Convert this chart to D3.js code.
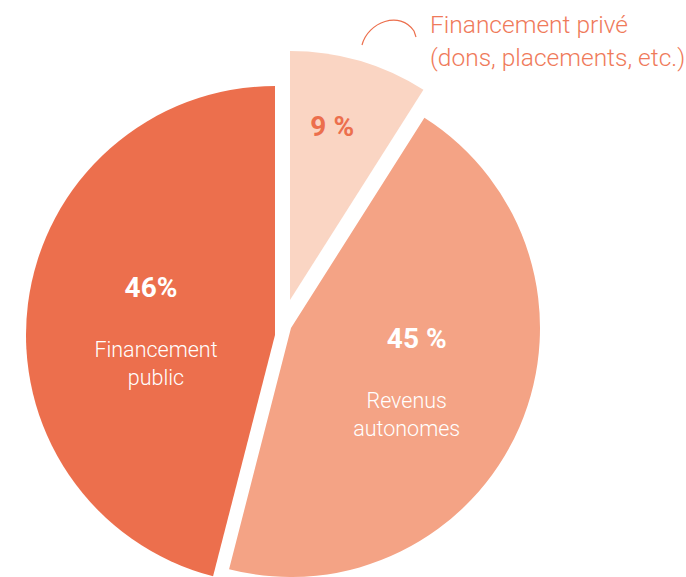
<!DOCTYPE html>
<html>
<head>
<meta charset="utf-8">
<script src="https://cdn.jsdelivr.net/npm/d3@7"></script>
<style>
  html, body { margin: 0; padding: 0; background: #fff; }
  svg { display: block; font-family: Roboto, 'Open Sans', sans-serif; }
</style>
</head>
<body>
<svg id="chart" width="686" height="577"></svg>
<script>
'use strict'

// sources de financement, dans le sens horaire depuis midi
const categories = ['privé', 'autonomes', 'public']
const shares = [9, 45, 46]
const pctLabels = ['9 %', '45 %', '46%']
const nameLines = [[], ['Revenus', 'autonomes'], ['Financement', 'public']]
const colors = ['#fad5c3', '#f4a385', '#ec6f4d']
const calloutLines = ['Financement privé', '(dons, placements, etc.)']

const width = 686
const height = 577
const radius = 249
const center = [283, 325]
// each slice is pulled out of the pie by hand
const sliceShift = [[7, -25], [8, 3], [-8, 10]]
const labelRadius = [180, 125, 125]
const pctOffset = [[-8, 9], [11, -30], [0, -22]]
const nameOffset = [[0, 0], [1, 30], [5, 38]]

const svg = d3.select('#chart')

const pie = d3.pie().sort(null).value((d) => d)
const arcs = pie(shares)
const arc = d3.arc().innerRadius(0).outerRadius(radius)

const slices = svg.append('g')
  .attr('class', 'slices')
  .selectAll('g.slice')
  .data(arcs)
  .enter().append('g')
  .attr('class', 'slice')
  .attr('transform', (d, i) => `translate(${center[0] + sliceShift[i][0]},${center[1] + sliceShift[i][1]})`)

slices.append('path')
  .attr('d', arc)
  .attr('fill', (d, i) => colors[i])

const labelPos = (d, i) => {
  const mid = (d.startAngle + d.endAngle) / 2
  return [Math.sin(mid) * labelRadius[i], -Math.cos(mid) * labelRadius[i]]
}

const labels = slices.append('g')
  .attr('class', 'label')
  .attr('transform', (d, i) => {
    const p = labelPos(d, i)
    return `translate(${p[0]},${p[1]})`
  })

labels.append('text')
  .attr('text-anchor', 'middle')
  .attr('x', (d, i) => pctOffset[i][0])
  .attr('y', (d, i) => pctOffset[i][1])
  .attr('font-size', 28)
  .attr('font-weight', 700)
  .attr('fill', (d, i) => i === 0 ? '#ec6f4d' : '#fff')
  .text((d, i) => pctLabels[i])

labels.each(function (d, i) {
  d3.select(this).selectAll('text.name')
    .data(nameLines[i])
    .enter().append('text')
    .attr('class', 'name')
    .attr('text-anchor', 'middle')
    .attr('x', nameOffset[i][0])
    .attr('y', (t, j) => nameOffset[i][1] + j * 28)
    .attr('font-size', 21.5)
    .attr('font-weight', 300)
    .attr('fill', '#fff')
    .text((t) => t)
})

// légende du financement privé, avec sa petite flèche courbe
const callout = svg.append('g').attr('class', 'callout')
callout.append('path')
  .attr('d', 'M362,45 C368,22 400,10 414,31 L416,37')
  .attr('fill', 'none')
  .attr('stroke', '#ec6f4d')
  .attr('stroke-width', 1.2)
callout.selectAll('text')
  .data(calloutLines)
  .enter().append('text')
  .attr('x', 430)
  .attr('y', (t, i) => 33 + i * 33)
  .attr('font-size', 24.5)
  .attr('font-weight', 300)
  .attr('fill', '#ef7a5a')
  .text((t) => t)
</script>
</body>
</html>
